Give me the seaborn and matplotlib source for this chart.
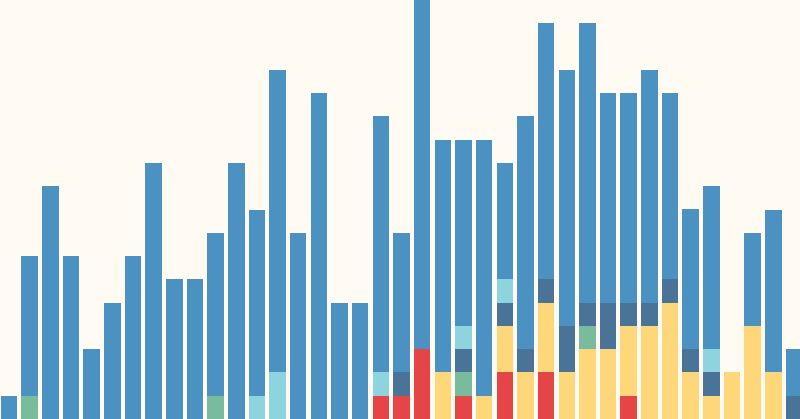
import numpy as np
import matplotlib
matplotlib.use("Agg")
import matplotlib.pyplot as plt
import pandas as pd
import seaborn as sb

# units per column, one list per colour group (bottom to top: red, yellow, green, dark, cyan, blue)
blue     = [1, 6, 10, 7, 3, 5, 7, 11, 6, 6, 7, 11, 8, 13, 8, 14, 5, 5, 11, 6,
            15, 10, 8, 11, 5, 10, 11, 11, 12, 9, 9, 10, 8, 6, 7, 0, 4, 7, 2]
cyan     = [0, 0, 0, 0, 0, 0, 0, 0, 0, 0, 0, 0, 1, 2, 0, 0, 0, 0, 1, 0,
            0, 0, 1, 0, 1, 0, 0, 0, 0, 0, 0, 0, 0, 0, 1, 0, 0, 0, 0]
darkblue = [0, 0, 0, 0, 0, 0, 0, 0, 0, 0, 0, 0, 0, 0, 0, 0, 0, 0, 0, 1,
            0, 0, 1, 0, 1, 1, 1, 2, 1, 2, 1, 1, 1, 1, 1, 0, 0, 0, 1]
green    = [0, 1, 0, 0, 0, 0, 0, 0, 0, 0, 1, 0, 0, 0, 0, 0, 0, 0, 0, 0,
            0, 0, 1, 0, 0, 0, 0, 0, 1, 0, 0, 0, 0, 0, 0, 0, 0, 0, 0]
yellow   = [0, 0, 0, 0, 0, 0, 0, 0, 0, 0, 0, 0, 0, 0, 0, 0, 0, 0, 0, 0,
            0, 2, 0, 1, 2, 2, 3, 2, 3, 3, 3, 4, 5, 2, 1, 2, 4, 2, 0]
red      = [0, 0, 0, 0, 0, 0, 0, 0, 0, 0, 0, 0, 0, 0, 0, 0, 0, 0, 1, 1,
            3, 0, 1, 0, 2, 0, 2, 0, 0, 0, 1, 0, 0, 0, 0, 0, 0, 0, 0]

groups = ["blue", "cyan", "darkblue", "green", "yellow", "red"]
colors = {"blue": "#4b92c3", "cyan": "#8dd4df", "darkblue": "#4a7398",
          "green": "#78bb9d", "yellow": "#fdd77a", "red": "#e64547"}

rows = []
for name, vals in zip(groups, [blue, cyan, darkblue, green, yellow, red]):
    for i, v in enumerate(vals):
        rows.append({"col": i, "group": name, "n": v})
df = pd.DataFrame(rows)

bg = "#fffbf2"
fig = plt.figure(figsize=(8, 4.19), dpi=100, facecolor=bg)
ax = fig.add_axes([0, 0, 1, 1])
ax.set_facecolor(bg)

sb.histplot(data=df, x="col", hue="group", weights="n", hue_order=groups,
            palette=colors, discrete=True, multiple="stack", shrink=0.8,
            alpha=1, linewidth=0, legend=False, ax=ax)

ax.set_xlim(-0.436, 38.29)
ax.set_ylim(0, 18)
ax.axis("off")
fig.savefig("out.png", dpi=100, facecolor=bg)
